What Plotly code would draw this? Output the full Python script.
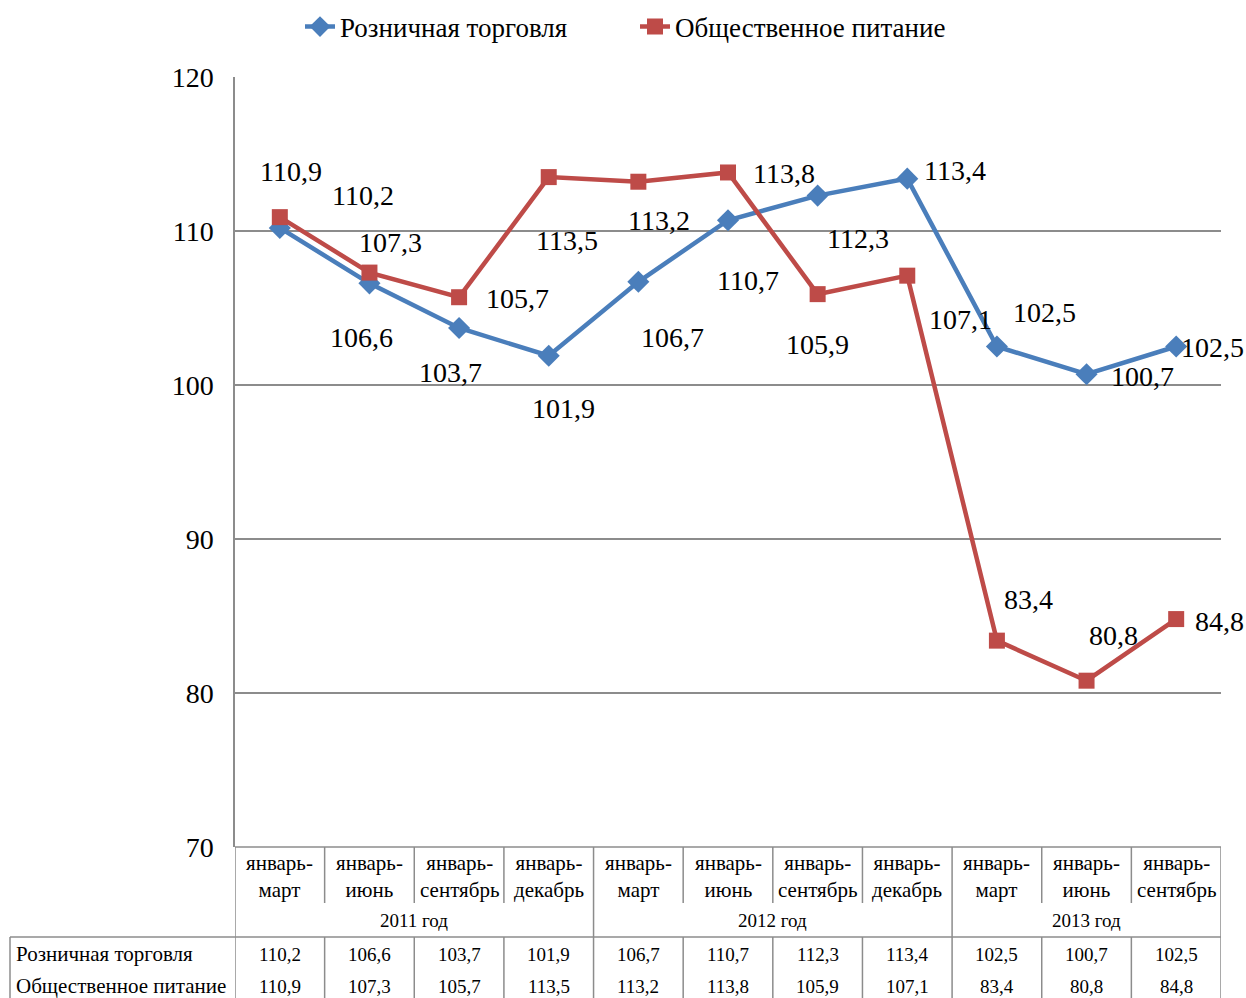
import plotly.graph_objects as go

# ---- data ----
periods = ["январь-<br>март", "январь-<br>июнь", "январь-<br>сентябрь", "январь-<br>декабрь",
           "январь-<br>март", "январь-<br>июнь", "январь-<br>сентябрь", "январь-<br>декабрь",
           "январь-<br>март", "январь-<br>июнь", "январь-<br>сентябрь"]
years = ["2011 год", "2012 год", "2013 год"]
year_spans = [(0, 3), (4, 7), (8, 10)]
retail_name = "Розничная торговля"
food_name = "Общественное питание"
retail = [110.2, 106.6, 103.7, 101.9, 106.7, 110.7, 112.3, 113.4, 102.5, 100.7, 102.5]
food = [110.9, 107.3, 105.7, 113.5, 113.2, 113.8, 105.9, 107.1, 83.4, 80.8, 84.8]
y_ticks = [70, 80, 90, 100, 110, 120]

# ---- style ----
BLUE = "#4A7EBB"
RED = "#BE4B48"
GRID = "#8C8C8C"
FONT = "Liberation Serif"
retail_label_offsets = [(83, -32), (-8, 54), (-9, 44), (15, 53), (34, 56), (20, 60),
                        (40, 43), (48, -8), (48, -34), (56, 2), (36, 1)]
food_label_offsets = [(11, -46), (21, -30), (58, 1), (18, 63), (21, 39), (56, 1),
                      (0, 50), (53, 44), (32, -41), (27, -45), (43, 2)]

W, H = 1246, 998
L, R, T, B = 235, 1221, 77, 847


def py(pix):
    """pixel row -> paper y"""
    return (B - pix) / (B - T)


def px(pix):
    return (pix - L) / (R - L)


def fmt(v):
    return f"{v:.1f}".replace(".", ",")


xs = list(range(len(periods)))

fig = go.Figure()
fig.add_trace(go.Scatter(x=xs, y=retail, name=retail_name, mode="lines+markers",
                         line=dict(color=BLUE, width=4.5),
                         marker=dict(symbol="diamond", size=17, color=BLUE)))
fig.add_trace(go.Scatter(x=xs, y=food, name=food_name, mode="lines+markers",
                         line=dict(color=RED, width=4.5),
                         marker=dict(symbol="square", size=16, color=RED)))

ann = []
for vals, offs in [(retail, retail_label_offsets), (food, food_label_offsets)]:
    for i, v in enumerate(vals):
        dx, dy = offs[i]
        ann.append(dict(x=i, y=v, xref="x", yref="y", text=fmt(v), showarrow=False,
                        xshift=dx, yshift=-dy, font=dict(family=FONT, size=28, color="black")))

TXT = 21
NUM = 19
for i, p in enumerate(periods):
    ann.append(dict(x=i, y=py(876), xref="x", yref="paper", text=p, showarrow=False,
                    font=dict(family=FONT, size=TXT, color="black"), yanchor="middle"))
    ann.append(dict(x=i, y=py(954), xref="x", yref="paper", text=fmt(retail[i]), showarrow=False,
                    font=dict(family=FONT, size=NUM, color="black"), yanchor="middle"))
    ann.append(dict(x=i, y=py(986), xref="x", yref="paper", text=fmt(food[i]), showarrow=False,
                    font=dict(family=FONT, size=NUM, color="black"), yanchor="middle"))
for yname, (a, b) in zip(years, year_spans):
    ann.append(dict(x=(a + b) / 2, y=py(921), xref="x", yref="paper", text=yname, showarrow=False,
                    font=dict(family=FONT, size=NUM, color="black"), yanchor="middle"))
for name, yy in [(retail_name, 954), (food_name, 986)]:
    ann.append(dict(x=px(14), y=py(yy), xref="paper", yref="paper", text=name, showarrow=False,
                    xanchor="left", yanchor="middle",
                    font=dict(family=FONT, size=TXT, color="black")))

shapes = []
line_style = dict(color=GRID, width=1.5)
n = len(periods)
shapes.append(dict(type="line", xref="x", yref="paper", x0=-0.5, x1=n - 0.5,
                   y0=0, y1=0, line=line_style))
shapes.append(dict(type="line", xref="paper", yref="paper", x0=px(10), x1=1,
                   y0=py(937), y1=py(937), line=line_style))
for k in range(n + 1):
    shapes.append(dict(type="line", xref="x", yref="paper", x0=k - 0.5, x1=k - 0.5,
                       y0=0, y1=py(903), line=line_style))
    shapes.append(dict(type="line", xref="x", yref="paper", x0=k - 0.5, x1=k - 0.5,
                       y0=py(937), y1=py(1000), line=line_style))
bounds = [year_spans[0][0] - 0.5] + [b + 0.5 for (_, b) in year_spans]
for bx in bounds:
    shapes.append(dict(type="line", xref="x", yref="paper", x0=bx, x1=bx,
                       y0=py(903), y1=py(937), line=line_style))
shapes.append(dict(type="line", xref="paper", yref="paper", x0=px(10), x1=px(10),
                   y0=py(937), y1=py(1000), line=line_style))

fig.update_layout(
    width=W, height=H,
    margin=dict(l=L, r=W - R, t=T, b=H - B, autoexpand=False),
    paper_bgcolor="white", plot_bgcolor="white",
    font=dict(family=FONT, color="black"),
    showlegend=True,
    legend=dict(orientation="h", x=px(300), xanchor="left",
                yref="container", y=1 - 27 / H, yanchor="middle",
                entrywidth=290, entrywidthmode="pixels",
                font=dict(family=FONT, size=27, color="black"),
                traceorder="normal", bgcolor="rgba(0,0,0,0)"),
    xaxis=dict(range=[-0.5, n - 0.5], showgrid=False, zeroline=False, showticklabels=False,
               showline=False, fixedrange=True),
    yaxis=dict(range=[70, 120], tickvals=y_ticks, showgrid=True, gridcolor=GRID, gridwidth=1.5,
               zeroline=False, showline=True, linecolor=GRID, linewidth=1.5,
               ticks="", ticklabelstandoff=14,
               tickfont=dict(family=FONT, size=28, color="black")),
    annotations=ann,
    shapes=shapes,
)

fig.write_html("out.html",
               config={"displayModeBar": False},
               post_script="document.body.style.margin='0';"
                           "document.body.style.overflow='hidden';"
                           "document.documentElement.style.overflow='hidden';")
